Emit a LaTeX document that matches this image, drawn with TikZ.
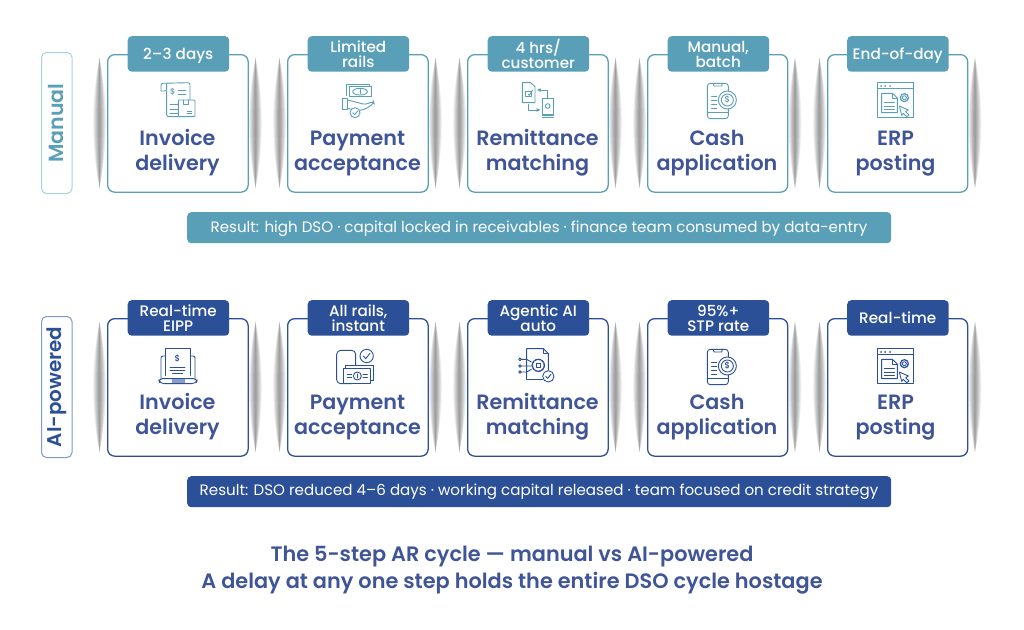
\documentclass[tikz,border=0pt]{standalone}
\usepackage{fontspec}
\usetikzlibrary{arrows.meta}
\setmainfont{Poppins}
\newfontfamily\psemi{Poppins SemiBold}
\newfontfamily\pmed{Poppins Medium}
\definecolor{teal}{HTML}{5A9FB8}
\definecolor{tealpale}{HTML}{A9D2DE}
\definecolor{navy}{HTML}{2C5098}
\definecolor{navypale}{HTML}{7F9AC8}
\definecolor{ink}{HTML}{3F5597}
\tikzset{
  card/.style={draw=#1,line width=1.3pt,fill=white,rounded corners=7pt,minimum height=137.5pt,inner sep=0pt,anchor=north west},
  tabbox/.style={fill=#1,rounded corners=4pt,minimum width=101.5pt,minimum height=35.5pt,inner sep=0pt,anchor=north west},
  tabtext/.style={text=white,font=\pmed\fontsize{15.2}{15}\selectfont,align=center,anchor=center,inner sep=0pt},
  cardtitle/.style={text=ink,font=\psemi\fontsize{20.7}{25}\selectfont,align=center,anchor=center,inner sep=0pt},
  sidebox/.style={draw=#1,line width=1pt,fill=white,rounded corners=5pt,minimum width=30.5pt,minimum height=141pt,inner sep=0pt,anchor=north west},
  sidetext/.style={text=#1,font=\psemi\fontsize{20.5}{24}\selectfont,rotate=90,inner sep=0pt},
  resultbar/.style={fill=#1,rounded corners=4pt,minimum width=704pt,minimum height=31pt,inner sep=0pt,anchor=north west},
  resulttext/.style={text=white,font=\fontsize{15.1}{16}\selectfont,inner sep=0pt},
  heading/.style={text=ink,font=\psemi\fontsize{20.85}{27}\selectfont,align=center,inner sep=0pt},
  ic/.style={draw=icc,line width=0.9pt,line join=round,line cap=round},
}
% soft side shadow: #1 centre x, #2 top y
\newcommand{\softshade}[2]{%
  \foreach \w in {1,2,3,4,5,6,7,8}{
    \fill[black,opacity=0.055] (#1,#2) .. controls ({#1-\w*1.05},{#2+40}) and ({#1-\w*1.05},{#2+90}) .. (#1,{#2+130})
      .. controls ({#1+\w*1.05},{#2+90}) and ({#1+\w*1.05},{#2+40}) .. (#1,#2) -- cycle;
  }}
\newcommand{\icinvoice}{%
  \draw[ic,rounded corners=2pt] (33,45) -- (33,22) -- (120,20) -- (120,72);
  \draw[ic,rounded corners=2pt] (33,45) -- (50,45) -- (50,22);
  \draw[ic,rounded corners=2pt] (50,45) -- (50,122) -- (85,122);
  \node[text=icc,font=\pmed\fontsize{8}{8}\selectfont,inner sep=0pt] (d1) at (68,48) {\$};
  \draw[ic] (85,42) -- (108,42) (85,55) -- (108,55) (60,85) -- (85,85) (60,100) -- (85,100) (60,112) -- (85,112);
  \draw[ic,rounded corners=1pt] (85,72) rectangle (135,122);
  \draw[ic] (100,72) -- (100,85) -- (115,85) -- (115,72) (112,105) -- (125,105) (112,112) -- (125,112);}
\newcommand{\icmoney}{%
  \draw[ic] (50,58) -- (50,25) -- (118,25) -- (118,32);
  \draw[ic] (58,32) rectangle (125,62);
  \draw[ic] (90,47) ellipse (22 and 10);
  \draw[ic] (90,41) -- (90,53);
  \draw[ic] (38,68) rectangle (52,100);
  \draw[ic,rounded corners=3pt] (52,72) -- (85,80) -- (105,86) -- (130,76) -- (132,82) -- (105,100) -- (85,104) -- (52,97);
  \draw[ic,fill=white] (75,110) circle (15);
  \draw[ic] (68,110) -- (74,116) -- (83,105);}
\newcommand{\icremit}{%
  \draw[ic] (37,20) -- (62,20) -- (75,32) -- (75,80) -- (37,80) -- cycle;
  \draw[ic] (47,45) rectangle (65,62);
  \draw[ic] (55,55) -- (58,58) -- (68,42);
  \draw[ic,-{Latex[length=4pt,width=4pt]}] (112,65) -- (112,42) -- (80,42);
  \draw[ic,-{Latex[length=4pt,width=4pt]}] (55,85) -- (55,102) -- (92,102);
  \draw[ic] (97,68) rectangle (130,115);
  \draw[ic] (113,90) circle (7);
  \draw[ic] (97,119) -- (130,119) (97,124) -- (130,124);}
\newcommand{\iccash}{%
  \draw[ic,rounded corners=3pt] (52,22) rectangle (115,128);
  \draw[ic] (70,22) -- (72,30) -- (95,30) -- (97,22);
  \draw[ic] (52,110) -- (115,110);
  \draw[ic] (65,60) -- (80,60) (65,72) -- (80,72) (65,85) -- (80,85) (65,97) -- (80,97);
  \draw[ic,fill=white] (112,72) circle (27);
  \draw[ic] (112,72) circle (18);
  \node[text=icc,font=\pmed\fontsize{8.5}{8}\selectfont,inner sep=0pt] (d2) at (112,72) {\$};}
\newcommand{\icerp}{%
  \draw[ic] (38,20) rectangle (145,125);
  \draw[ic] (38,38) -- (145,38);
  \fill[icc] (48,30) circle (3) (60,30) circle (3) (75,30) circle (3);
  \draw[ic] (50,52) -- (82,52) -- (97,66) -- (97,110) -- (50,110) -- cycle;
  \draw[ic] (82,52) -- (82,66) -- (97,66);
  \draw[ic] (58,80) -- (88,80) (58,90) -- (88,90) (58,100) -- (88,100);
  \draw[ic,dash pattern=on 2pt off 1pt,line width=1.4pt] (118,65) circle (12);
  \draw[ic] (118,65) circle (6);
  \draw[ic] (103,90) -- (130,102) -- (122,107) -- (132,117) -- (125,122) -- (115,112) -- (110,118) -- cycle;}
\newcommand{\iclaptop}{%
  \draw[ic,rounded corners=2pt] (45,42) -- (33,42) -- (33,110);
  \draw[ic,rounded corners=2pt] (120,42) -- (135,42) -- (135,110);
  \draw[ic] (45,100) -- (45,20) -- (120,20) -- (120,100);
  \node[text=icc,font=\pmed\fontsize{8.5}{8}\selectfont,inner sep=0pt] (d3) at (82,50) {\$};
  \draw[ic] (60,75) -- (105,75) (60,85) -- (105,85) (68,95) -- (98,95);
  \draw[ic,rounded corners=4pt] (25,110) -- (143,110) -- (138,125) -- (30,125) -- cycle;
  \fill[icc!55] (65,112) rectangle (105,122);}
\newcommand{\icrails}{%
  \draw[ic,rounded corners=4pt] (20,25) rectangle (77,125);
  \draw[ic] (110,42) circle (20);
  \draw[ic] (100,42) -- (107,50) -- (120,34);
  \draw[ic,fill=white] (47,80) -- (47,70) -- (130,70) -- (130,115) -- (122,115);
  \draw[ic,fill=white] (40,80) rectangle (122,125);
  \draw[ic] (82,102) circle (12);
  \draw[ic] (82,96) -- (82,108);
  \draw[ic] (52,97) -- (65,97) (52,107) -- (65,107) (99,97) -- (112,97) (99,107) -- (112,107);}
\newcommand{\icagent}{%
  \draw[ic] (50,105) -- (50,20) -- (100,20) -- (115,35) -- (115,90);
  \draw[ic] (50,105) -- (50,112) -- (98,112);
  \draw[ic] (100,20) -- (100,35) -- (115,35);
  \draw[ic,dash pattern=on 2.5pt off 1pt,line width=1.4pt] (85,70) circle (18);
  \draw[ic] (78,63) rectangle (92,77);
  \draw[ic] (34,52) -- (50,52) -- (64,60) (34,72) -- (66,72) (34,90) -- (50,90) -- (64,82);
  \draw[ic] (30,52) circle (4) (30,72) circle (4) (30,90) circle (4);
  \draw[ic,fill=white] (115,103) circle (17);
  \draw[ic] (107,103) -- (113,109) -- (123,97);}
\newcommand{\stepcard}[9]{% name, card x, card w, top y, colour, tab x, tab text, title, text centre x
  \softshade{#2-7.5}{#4+4}
  \softshade{#2+#3+8}{#4+4}
  \node[card=#5,minimum width=#3 pt] (#1) at (#2,#4) {};
  \node[tabbox=#5] (#1tab) at (#6,#4-18) {};
  \node[tabtext] (#1tabtext) at (#6+50.75,#4+2) {\rule{0pt}{11pt}#7\rule[-4pt]{0pt}{4pt}};
  \node[cardtitle] (#1title) at (#9,#4+98.5) {\rule{0pt}{16pt}#8\rule[-6pt]{0pt}{6pt}};
}
\begin{document}
\begin{tikzpicture}[x=1pt,y=-1pt]
\useasboundingbox (0,0) rectangle (1024,629);
\fill[white] (0,0) rectangle (1024,629);
% Manual row
\node[sidebox=tealpale] (manualside) at (41,52) {};
\node[sidetext=teal] (manuallabel) at (56.5,123) {Manual};
\stepcard{ma}{107}{140.5}{54}{teal}{127.5}{2–3 days}{Invoice\\delivery}{177.5}
\stepcard{mb}{287}{140.5}{54}{teal}{307.5}{Limited\\rails}{Payment\\acceptance}{357.5}
\stepcard{mc}{467}{140.5}{54}{teal}{487.5}{4 hrs/\\customer}{Remittance\\matching}{537.5}
\stepcard{md}{647}{140}{54}{teal}{667.5}{Manual,\\batch}{Cash\\application}{717}
\stepcard{me}{827}{140}{54}{teal}{847}{End-of-day}{ERP\\posting}{895.5}
\colorlet{icc}{teal}
\begin{scope}[shift={(150,76)},scale=1/3]\icinvoice\end{scope}
\begin{scope}[shift={(330,76)},scale=1/3]\icmoney\end{scope}
\begin{scope}[shift={(510,76)},scale=1/3]\icremit\end{scope}
\begin{scope}[shift={(690,76)},scale=1/3]\iccash\end{scope}
\begin{scope}[shift={(865,76)},scale=1/3]\icerp\end{scope}
\node[resultbar=teal] (mresult) at (187,212) {};
\node[resulttext] (mresulttext) at (539,229) {Result: high DSO · capital locked in receivables · finance team consumed by data-entry};
% AI row
\node[sidebox=navypale] (aiside) at (41,316) {};
\node[sidetext=navy,font=\psemi\fontsize{19.9}{24}\selectfont] (ailabel) at (56.5,387) {AI-powered};
\stepcard{aa}{107}{140.5}{318}{navy}{127.5}{Real-time\\EIPP}{Invoice\\delivery}{177.5}
\stepcard{ab}{287}{140.5}{318}{navy}{307.5}{All rails,\\instant}{Payment\\acceptance}{357.5}
\stepcard{ac}{467}{140.5}{318}{navy}{487.5}{Agentic AI\\auto}{Remittance\\matching}{537.5}
\stepcard{ad}{647}{140}{318}{navy}{667.5}{95\%+\\STP rate}{Cash\\application}{717}
\stepcard{ae}{827}{140}{318}{navy}{847}{Real-time}{ERP\\posting}{895.5}
\colorlet{icc}{navy}
\begin{scope}[shift={(150,342)},scale=1/3]\iclaptop\end{scope}
\begin{scope}[shift={(330,342)},scale=1/3]\icrails\end{scope}
\begin{scope}[shift={(510,342)},scale=1/3]\icagent\end{scope}
\begin{scope}[shift={(690,342)},scale=1/3]\iccash\end{scope}
\begin{scope}[shift={(865,342)},scale=1/3]\icerp\end{scope}
\node[resultbar=navy] (aresult) at (187,476) {};
\node[resulttext] (aresulttext) at (539,492) {Result: DSO reduced 4–6 days · working capital released · team focused on credit strategy};
\node[heading] (caption) at (512,570.5) {The 5-step AR cycle — manual vs AI-powered\\A delay at any one step holds the entire DSO cycle hostage};
\end{tikzpicture}
\end{document}
